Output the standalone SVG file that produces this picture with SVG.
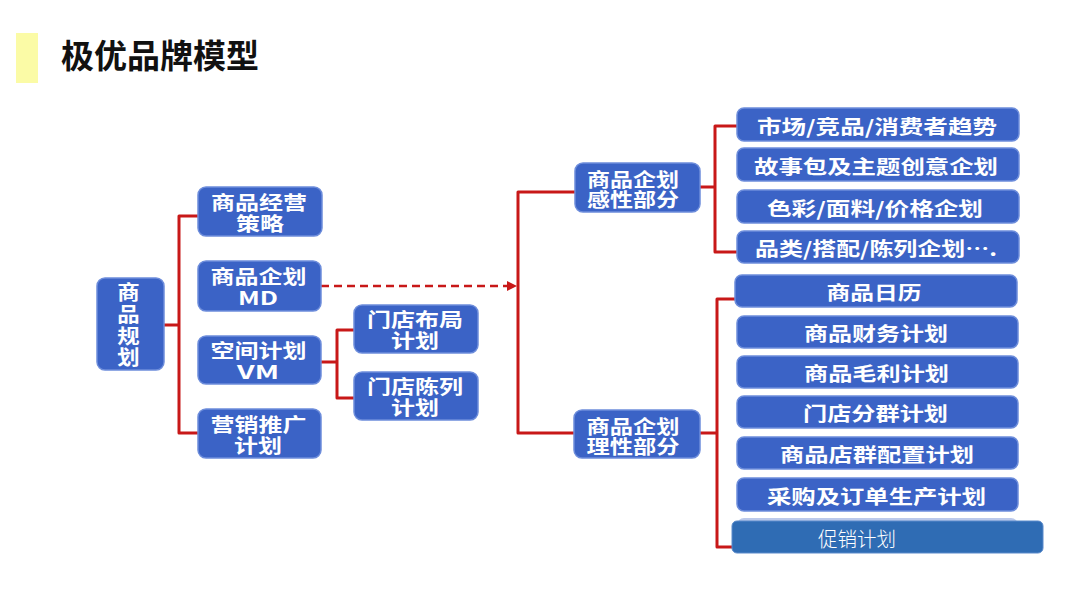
<svg xmlns="http://www.w3.org/2000/svg" width="1080" height="608" viewBox="0 0 1080 608">
<defs>
<style>
.n{fill:#3b63c6;stroke:#6d8ddb;stroke-width:1.5}
.t{fill:#fff;font-family:"Noto Sans CJK SC","Liberation Sans",sans-serif;font-weight:bold;font-size:19px;text-anchor:middle;dominant-baseline:central}
.c{fill:none;stroke:#c81818;stroke-width:3;stroke-linejoin:round}
.d{fill:none;stroke:#c81818;stroke-width:2.5;stroke-dasharray:8 5}
</style>
<marker id="ah" viewBox="0 0 10 10" refX="9" refY="5" markerWidth="4" markerHeight="4" orient="auto">
<path d="M0,0 L10,5 L0,10 z" fill="#c81818"/>
</marker>
</defs>
<rect width="1080" height="608" fill="#fff"/>
<rect x="16" y="33" width="22" height="50" fill="#fbfba6"/>
<text x="61" y="54" font-family="Noto Sans CJK SC,sans-serif" font-size="33" font-weight="700" fill="#111" dominant-baseline="central">极优品牌模型</text>

<g id="connectors">
<path class="c" d="M164,325 H179 M198,216 H179 V433 H198"/>
<path class="c" d="M321,362 H337 M354,330 H337 V398 H354"/>
<path class="d" d="M321,286 H516" marker-end="url(#ah)"/>
<path class="c" d="M576,192 H518 V433 H574"/>
<path class="c" d="M700,187 H715 M737,126 H715 V252 H737"/>
<path class="c" d="M700,433 H717 M735,299 H717 V547 H733"/>
</g>

<g id="n-root"><rect class="n" x="97" y="278" width="67" height="92" rx="8"/>
<text class="t" x="128.5" y="326" transform="translate(128.5,326) scale(1.12,1) translate(-128.5,-326)" style="writing-mode:vertical-rl;font-size:20px;letter-spacing:1.7px">商品规划</text></g>

<g id="n-strategy"><rect class="n" x="198" y="187" width="124" height="49" rx="8"/>
<text class="t" x="259" y="201" textLength="96" lengthAdjust="spacingAndGlyphs">商品经营</text><text class="t" x="260" y="222" textLength="48" lengthAdjust="spacingAndGlyphs">策略</text></g>
<g id="n-md"><rect class="n" x="198" y="261" width="123" height="50" rx="8"/>
<text class="t" x="258.5" y="275" textLength="96" lengthAdjust="spacingAndGlyphs">商品企划</text><text class="t" x="258" y="296" textLength="40" lengthAdjust="spacingAndGlyphs">MD</text></g>
<g id="n-vm"><rect class="n" x="198" y="336" width="123" height="48" rx="8"/>
<text class="t" x="258.5" y="349" textLength="96" lengthAdjust="spacingAndGlyphs">空间计划</text><text class="t" x="258" y="370" textLength="42" lengthAdjust="spacingAndGlyphs">VM</text></g>
<g id="n-promo"><rect class="n" x="198" y="409" width="123" height="49" rx="8"/>
<text class="t" x="258.5" y="423" textLength="96" lengthAdjust="spacingAndGlyphs">营销推广</text><text class="t" x="258" y="444" textLength="48" lengthAdjust="spacingAndGlyphs">计划</text></g>
<g id="n-layout"><rect class="n" x="354" y="305" width="124" height="48" rx="8"/>
<text class="t" x="415" y="318" textLength="96" lengthAdjust="spacingAndGlyphs">门店布局</text><text class="t" x="415" y="339" textLength="48" lengthAdjust="spacingAndGlyphs">计划</text></g>
<g id="n-display"><rect class="n" x="354" y="372" width="124" height="48" rx="8"/>
<text class="t" x="415" y="385" textLength="96" lengthAdjust="spacingAndGlyphs">门店陈列</text><text class="t" x="415" y="406" textLength="48" lengthAdjust="spacingAndGlyphs">计划</text></g>

<g id="n-emotional"><rect class="n" x="575" y="163" width="125" height="49" rx="8"/>
<text class="t" x="633" y="178" textLength="92" lengthAdjust="spacingAndGlyphs">商品企划</text><text class="t" x="633" y="198" textLength="92" lengthAdjust="spacingAndGlyphs">感性部分</text></g>
<g id="n-rational"><rect class="n" x="574" y="410" width="126" height="48" rx="8"/>
<text class="t" x="633" y="425" textLength="93" lengthAdjust="spacingAndGlyphs">商品企划</text><text class="t" x="633" y="445" textLength="93" lengthAdjust="spacingAndGlyphs">理性部分</text></g>

<g id="n-r1"><rect class="n" x="737" y="108" width="282" height="33" rx="7"/><text class="t" x="877" y="125" textLength="240" lengthAdjust="spacingAndGlyphs">市场/竞品/消费者趋势</text></g>
<g id="n-r2"><rect class="n" x="737" y="148" width="282" height="33" rx="7"/><text class="t" x="876" y="165" textLength="244" lengthAdjust="spacingAndGlyphs">故事包及主题创意企划</text></g>
<g id="n-r3"><rect class="n" x="737" y="190" width="282" height="33" rx="7"/><text class="t" x="875" y="207" textLength="216" lengthAdjust="spacingAndGlyphs">色彩/面料/价格企划</text></g>
<g id="n-r4"><rect class="n" x="737" y="231" width="282" height="32" rx="7"/><text class="t" x="876" y="247" textLength="242" lengthAdjust="spacingAndGlyphs">品类/搭配/陈列企划….</text></g>

<g id="n-s1"><rect class="n" x="735" y="275" width="282" height="32" rx="7"/><text class="t" x="874" y="291" textLength="95" lengthAdjust="spacingAndGlyphs">商品日历</text></g>
<g id="n-s2"><rect class="n" x="737" y="316" width="281" height="32" rx="7"/><text class="t" x="876" y="332" textLength="144" lengthAdjust="spacingAndGlyphs">商品财务计划</text></g>
<g id="n-s3"><rect class="n" x="737" y="356" width="281" height="32" rx="7"/><text class="t" x="876.5" y="372" textLength="145" lengthAdjust="spacingAndGlyphs">商品毛利计划</text></g>
<g id="n-s4"><rect class="n" x="737" y="396" width="281" height="32" rx="7"/><text class="t" x="875.5" y="412" textLength="145" lengthAdjust="spacingAndGlyphs">门店分群计划</text></g>
<g id="n-s5"><rect class="n" x="737" y="437" width="281" height="32" rx="7"/><text class="t" x="877" y="453" textLength="194" lengthAdjust="spacingAndGlyphs">商品店群配置计划</text></g>
<g id="n-s6"><rect class="n" x="737" y="478" width="281" height="33" rx="7"/><text class="t" x="876.5" y="495" textLength="219" lengthAdjust="spacingAndGlyphs">采购及订单生产计划</text></g>
<g id="n-s7"><rect x="737" y="518" width="281" height="32" rx="7" fill="#3b63c6" opacity="0.35"/>
<rect x="732" y="521" width="311" height="32" rx="5" fill="#2f6cb4" stroke="#5a8acb" stroke-width="1"/>
<text x="857" y="538" fill="#fff" font-family="Noto Sans CJK SC,sans-serif" font-weight="300" font-size="20" text-anchor="middle" dominant-baseline="central" textLength="78" lengthAdjust="spacingAndGlyphs">促销计划</text></g>
</svg>
